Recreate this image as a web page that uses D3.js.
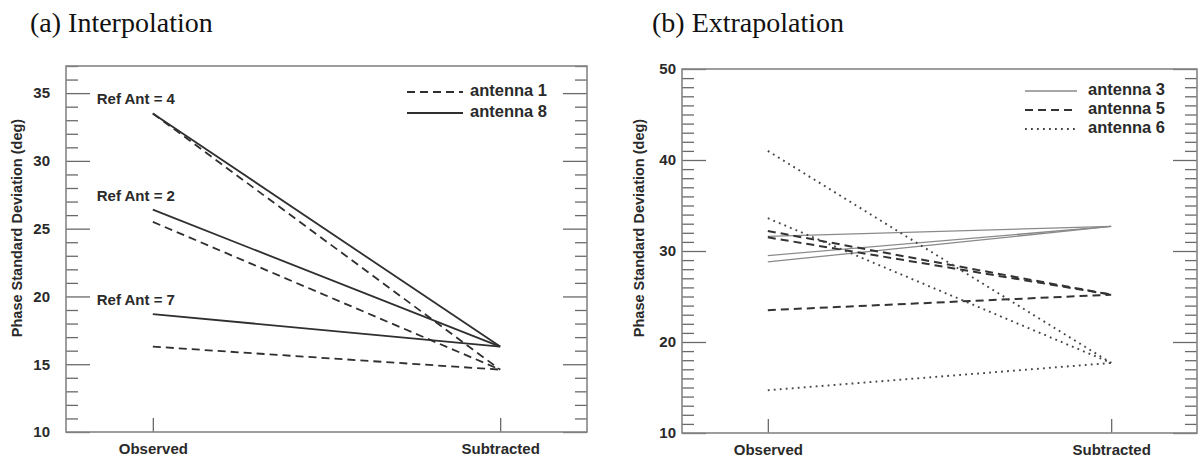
<!DOCTYPE html>
<html>
<head>
<meta charset="utf-8">
<script src="https://cdn.jsdelivr.net/npm/d3@7/dist/d3.min.js"></script>
<style>
  html, body { margin: 0; padding: 0; background: #fff; }
  svg { display: block; }
  text { font-family: "Liberation Sans", Arial, sans-serif; fill: #2a2a2a; }
</style>
</head>
<body>
<svg id="chart" width="1202" height="459"></svg>
<script>
// ---------------- data ----------------
const categories = ["Observed", "Subtracted"];

// (a) Interpolation — one line per reference antenna
const refAnts = ["4", "2", "7"];
const antenna1Observed   = [33.5, 25.5, 16.3];
const antenna1Subtracted = [14.6, 14.6, 14.6];
const antenna8Observed   = [33.5, 26.4, 18.7];
const antenna8Subtracted = [16.3, 16.3, 16.3];
const interpTicks = [10, 15, 20, 25, 30, 35];

// (b) Extrapolation
const antenna3Observed   = [31.6, 29.5, 28.8];
const antenna3Subtracted = [32.7, 32.7, 32.7];
const antenna5Observed   = [32.2, 31.5, 23.5];
const antenna5Subtracted = [25.2, 25.2, 25.2];
const antenna6Observed   = [41.0, 33.6, 14.7];
const antenna6Subtracted = [17.7, 17.7, 17.7];
const extrapTicks = [10, 20, 30, 40, 50];

const titles = ["(a) Interpolation", "(b) Extrapolation"];
const yLabel = "Phase Standard Deviation (deg)";

// ---------------- styles ----------------
const styles = {
  a_solid:  { color: "#2f2f2f", width: 1.8, dash: null },
  a_dash:   { color: "#2f2f2f", width: 1.8, dash: "8,5" },
  b_solid:  { color: "#8a8a8a", width: 1.3, dash: null },
  b_dash:   { color: "#333",    width: 2.0, dash: "8,5" },
  b_dot:    { color: "#444",    width: 1.9, dash: "1.8,4.2" }
};

const svg = d3.select("#chart");

function drawPanel(cfg) {
  const g = svg.append("g");
  const x = d3.scalePoint().domain(categories).range([cfg.left, cfg.right]).padding(0.25);
  const y = d3.scaleLinear().domain(cfg.domain).range([cfg.bottom, cfg.top]);

  // title
  svg.append("text").attr("x", cfg.titleX).attr("y", 32)
    .style("font-family", "'Liberation Serif', 'Times New Roman', serif")
    .style("font-size", "28px").style("fill", "#111")
    .text(cfg.title);

  // minor ticks
  const minor = d3.range(cfg.domain[0] + 1, cfg.domain[1] + 0.001, 1).filter(v => !cfg.majors.includes(v));
  const minorAxisL = d3.axisLeft(y).tickValues(minor).tickSize(-12).tickFormat("");
  const minorAxisR = d3.axisRight(y).tickValues(minor).tickSize(-12).tickFormat("");
  const majorAxisL = d3.axisLeft(y).tickValues(cfg.majors).tickSize(-24).tickPadding(cfg.labelPad).tickFormat(d3.format("d"));
  const majorAxisR = d3.axisRight(y).tickValues(cfg.majors).tickSize(-24).tickFormat("");
  const xAxis = d3.axisBottom(x).tickSize(-14).tickPadding(11);

  const axes = [
    [minorAxisL, `translate(${cfg.left},0)`],
    [minorAxisR, `translate(${cfg.right},0)`],
    [majorAxisL, `translate(${cfg.left},0)`],
    [majorAxisR, `translate(${cfg.right},0)`],
    [xAxis, `translate(0,${cfg.bottom})`]
  ];
  axes.forEach(([ax, tr]) => {
    const a = g.append("g").attr("transform", tr).call(ax);
    a.select(".domain").remove();
    a.selectAll("line").attr("stroke", "#6a6a6a").attr("stroke-width", 1.3);
    a.selectAll("text").style("font-family", "'Liberation Sans', Arial, sans-serif")
      .style("font-size", "15px").style("font-weight", "bold").style("fill", "#2a2a2a");
  });

  // frame
  g.append("rect").attr("x", cfg.left).attr("y", cfg.top)
    .attr("width", cfg.right - cfg.left).attr("height", cfg.bottom - cfg.top)
    .attr("fill", "none").attr("stroke", "#858585").attr("stroke-width", 1.6);

  // y label
  g.append("text")
    .attr("transform", `translate(${cfg.yLabelX},${cfg.yLabelY}) rotate(-90)`)
    .attr("text-anchor", "middle").attr("dominant-baseline", "middle")
    .style("font-size", "14.5px").style("font-weight", "bold")
    .text(yLabel);

  // lines
  const line = d3.line().x(d => x(d.cat)).y(d => y(d.v));
  cfg.series.forEach(s => {
    s.obs.forEach((v, i) => {
      const pts = [{ cat: categories[0], v: v }, { cat: categories[1], v: s.sub[i] }];
      const st = styles[s.style];
      g.append("path").datum(pts).attr("d", line)
        .attr("fill", "none").attr("stroke", st.color).attr("stroke-width", st.width)
        .attr("stroke-dasharray", st.dash);
    });
  });

  // legend
  cfg.series.slice().sort((a, b) => a.legendOrder - b.legendOrder).forEach((s, i) => {
    const st = styles[s.style];
    const ly = cfg.legendY + i * cfg.legendStep;
    g.append("line").attr("x1", cfg.legendX1).attr("x2", cfg.legendX2).attr("y1", ly).attr("y2", ly)
      .attr("stroke", st.color).attr("stroke-width", st.width).attr("stroke-dasharray", st.dash);
    g.append("text").attr("x", cfg.legendX2 + cfg.legendGap).attr("y", ly)
      .attr("dominant-baseline", "middle")
      .style("font-size", "16.5px").style("font-weight", "bold")
      .text(s.name);
  });

  return { g, x, y };
}

// ---- panel (a)
const pa = drawPanel({
  left: 66, right: 587, top: 66, bottom: 432, domain: [10, 37], majors: interpTicks,
  labelPad: 16, title: titles[0], titleX: 30, yLabelX: 18, yLabelY: 228,
  series: [
    { name: "antenna 1", obs: antenna1Observed, sub: antenna1Subtracted, style: "a_dash", legendOrder: 0 },
    { name: "antenna 8", obs: antenna8Observed, sub: antenna8Subtracted, style: "a_solid", legendOrder: 1 }
  ],
  legendX1: 407, legendX2: 463, legendGap: 7, legendY: 92, legendStep: 21
});

// Ref Ant labels
refAnts.forEach((r, i) => {
  pa.g.append("text")
    .attr("x", pa.x(categories[0]) - 17)
    .attr("y", pa.y(antenna8Observed[i]) - 13)
    .attr("text-anchor", "middle").attr("dominant-baseline", "middle")
    .style("font-size", "15px").style("font-weight", "bold")
    .text(`Ref Ant = ${r}`);
});

// ---- panel (b)
drawPanel({
  left: 682, right: 1197, top: 69, bottom: 433, domain: [10, 50], majors: extrapTicks,
  labelPad: 6, title: titles[1], titleX: 652, yLabelX: 640, yLabelY: 228,
  series: [
    { name: "antenna 3", obs: antenna3Observed, sub: antenna3Subtracted, style: "b_solid", legendOrder: 0 },
    { name: "antenna 5", obs: antenna5Observed, sub: antenna5Subtracted, style: "b_dash", legendOrder: 1 },
    { name: "antenna 6", obs: antenna6Observed, sub: antenna6Subtracted, style: "b_dot", legendOrder: 2 }
  ],
  legendX1: 1025, legendX2: 1077, legendGap: 11, legendY: 91, legendStep: 19
});
</script>
</body>
</html>
